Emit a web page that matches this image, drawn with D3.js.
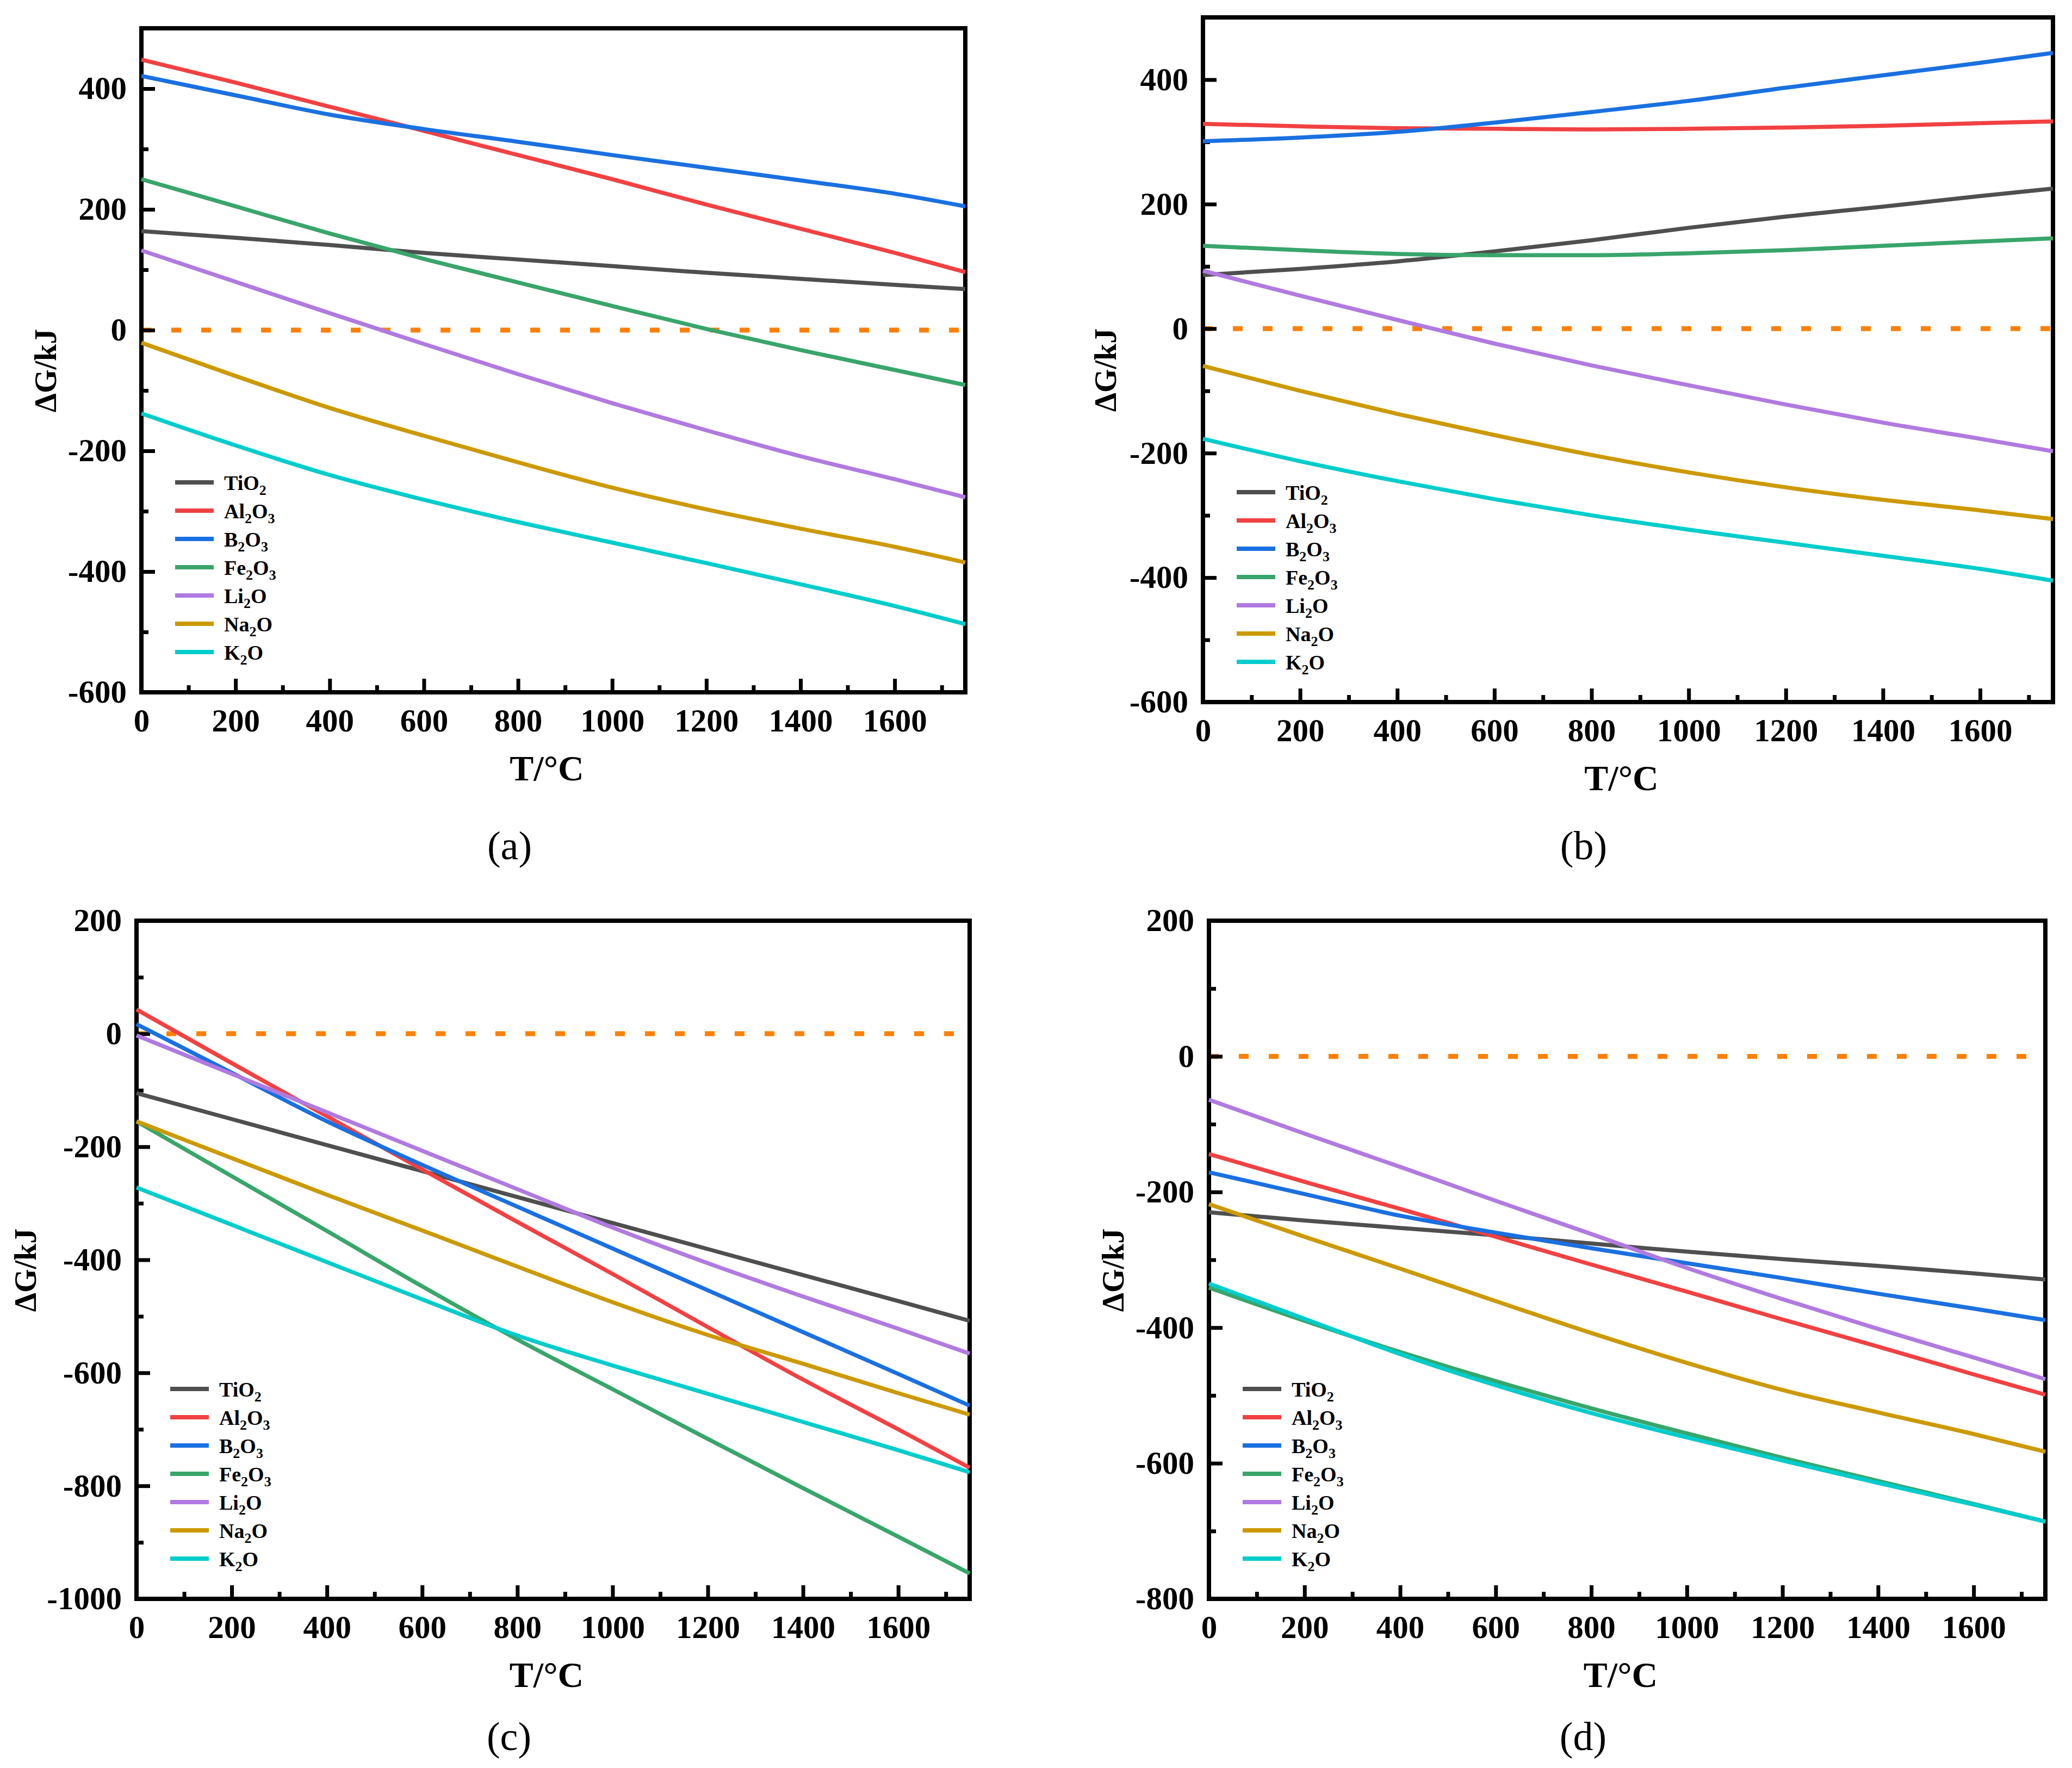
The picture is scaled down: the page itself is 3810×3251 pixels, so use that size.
<!DOCTYPE html>
<meta charset="utf-8">
<body style="margin:0;background:#fff">
<script src="https://d3js.org/d3.v7.min.js"></script>
<script>
// temperatures (°C) where the curves were read
var temps = [0, 200, 400, 600, 800, 1000, 1200, 1400, 1600, 1750];
var oxides = ["TiO2", "Al2O3", "B2O3", "Fe2O3", "Li2O", "Na2O", "K2O"];
var colors = ["#4f4f4f", "#f14142", "#1a70e0", "#39a56a", "#b07ae0", "#cc9900", "#00cccc"];
var panelNames = ["(a)", "(b)", "(c)", "(d)"];

// ΔG in kJ, one row per oxide (same order as oxides)
var dgA = [
  [164, 153, 141, 128, 117, 106, 95, 85, 75, 68],
  [448, 410, 370, 330, 290, 250, 208, 168, 128, 96],
  [421, 389, 357, 333, 312, 290, 269, 248, 226, 205],
  [250, 205, 160, 118, 79, 40, 2, -33, -66, -91],
  [132, 80, 28, -23, -73, -121, -166, -209, -247, -277],
  [-21, -76, -129, -175, -219, -261, -297, -329, -359, -385],
  [-138, -191, -240, -281, -318, -352, -386, -421, -457, -487]
];
var dgB = [
  [86, 96, 108, 124, 142, 162, 180, 196, 213, 225],
  [329, 325, 322, 321, 320, 321, 323, 326, 330, 333],
  [301, 307, 316, 331, 348, 366, 387, 407, 427, 443],
  [133, 126, 120, 118, 118, 121, 126, 133, 140, 145],
  [93, 53, 14, -24, -59, -91, -122, -151, -177, -197],
  [-60, -100, -137, -171, -203, -231, -255, -275, -292, -306],
  [-177, -213, -245, -274, -300, -323, -344, -365, -386, -405]
];
var dgC = [
  [-105, -151, -197, -243, -289, -335, -381, -427, -473, -508],
  [43, -52, -146, -240, -333, -425, -519, -612, -700, -768],
  [17, -69, -155, -232, -306, -380, -454, -528, -602, -658],
  [-155, -252, -349, -447, -541, -629, -717, -804, -890, -955],
  [-3, -71, -139, -207, -275, -343, -406, -465, -522, -566],
  [-155, -220, -285, -348, -412, -475, -533, -584, -636, -674],
  [-272, -338, -404, -470, -534, -587, -637, -687, -737, -776]
];
var dgD = [
  [-230, -242, -253, -264, -276, -288, -299, -309, -320, -329],
  [-144, -185, -225, -266, -307, -347, -388, -428, -469, -499],
  [-171, -203, -235, -260, -283, -305, -327, -350, -372, -389],
  [-341, -390, -436, -479, -519, -556, -592, -626, -660, -686],
  [-64, -114, -163, -213, -262, -312, -358, -402, -444, -476],
  [-218, -266, -313, -361, -408, -452, -492, -525, -557, -583],
  [-335, -387, -439, -485, -526, -562, -596, -629, -661, -686]
];

var xMajor = [0, 200, 400, 600, 800, 1000, 1200, 1400, 1600];
var xMinor = [100, 300, 500, 700, 900, 1100, 1300, 1500, 1700];
var yMajorAB = [-600, -400, -200, 0, 200, 400];
var yMinorAB = [-500, -300, -100, 100, 300];
var yMajorC = [-1000, -800, -600, -400, -200, 0, 200];
var yMinorC = [-900, -700, -500, -300, -100, 100];
var yMajorD = [-800, -600, -400, -200, 0, 200];
var yMinorD = [-700, -500, -300, -100, 100];
var zeroLine = [0, 1750];

var serif = "'Liberation Serif', 'Times New Roman', serif";

var panels = [
  {name: panelNames[0], data: dgA, yDom: [-600, 500], yMaj: yMajorAB, yMin: yMinorAB,
   l: 260, r: 1775, t: 52, b: 1273, titleOff: 157, labX: 937, labY: 1580},
  {name: panelNames[1], data: dgB, yDom: [-600, 500], yMaj: yMajorAB, yMin: yMinorAB,
   l: 2212, r: 3775, t: 32, b: 1291, titleOff: 160, labX: 2912, labY: 1580},
  {name: panelNames[2], data: dgC, yDom: [-1000, 200], yMaj: yMajorC, yMin: yMinorC,
   l: 251, r: 1783, t: 1693, b: 2940, titleOff: 185, labX: 936, labY: 3218},
  {name: panelNames[3], data: dgD, yDom: [-800, 200], yMaj: yMajorD, yMin: yMinorD,
   l: 2223, r: 3761, t: 1693, b: 2940, titleOff: 157, labX: 2911, labY: 3218}
];

var svg = d3.select("body").append("svg")
    .attr("width", 3810)
    .attr("height", 3251)
    .style("background", "#fff");

// write a formula like Al2O3 with subscript digits
function chemText(sel, label, size, subSize, drop) {
  var parts = label.split(/(\d+)/).filter(function(s) { return s.length; });
  var down = false;
  parts.forEach(function(p) {
    var isNum = /^\d+$/.test(p);
    var ts = sel.append("tspan").text(p);
    if (isNum) {
      ts.attr("font-size", subSize).attr("dy", down ? 0 : drop);
      down = true;
    } else {
      ts.attr("font-size", size).attr("dy", down ? -drop : 0);
      down = false;
    }
  });
}

panels.forEach(function(p) {
  var x = d3.scaleLinear().domain([0, 1750]).range([p.l, p.r]);
  var y = d3.scaleLinear().domain(p.yDom).range([p.b, p.t]);
  var g = svg.append("g");

  // dotted zero reference
  g.append("path")
    .attr("d", d3.line().x(function(d) { return x(d); }).y(y(0))(zeroLine))
    .attr("fill", "none")
    .attr("stroke", "#ff8000")
    .attr("stroke-width", 9)
    .attr("stroke-dasharray", "18,37");

  // minor ticks
  g.append("g")
    .attr("transform", "translate(0," + p.b + ")")
    .call(d3.axisBottom(x).tickValues(xMinor).tickSize(-13).tickSizeOuter(0).tickFormat(""));
  g.append("g")
    .attr("transform", "translate(" + p.l + ",0)")
    .call(d3.axisLeft(y).tickValues(p.yMin).tickSize(-13).tickSizeOuter(0).tickFormat(""));

  // major ticks with labels
  g.append("g")
    .attr("class", "ax")
    .attr("transform", "translate(0," + p.b + ")")
    .call(d3.axisBottom(x).tickValues(xMajor).tickSize(-25).tickSizeOuter(0).tickPadding(30)
      .tickFormat(function(d) { return String(d); }));
  g.append("g")
    .attr("class", "ax")
    .attr("transform", "translate(" + p.l + ",0)")
    .call(d3.axisLeft(y).tickValues(p.yMaj).tickSize(-25).tickSizeOuter(0).tickPadding(27)
      .tickFormat(function(d) { return String(d); }));

  g.selectAll(".domain").remove();
  g.selectAll(".tick line").attr("stroke", "#000").attr("stroke-width", 7);
  g.selectAll(".ax")
    .attr("font-family", serif)
    .attr("font-size", 59)
    .attr("font-weight", "bold");
  g.selectAll(".tick text").attr("fill", "#000");

  // frame
  g.append("rect")
    .attr("x", p.l).attr("y", p.t)
    .attr("width", p.r - p.l).attr("height", p.b - p.t)
    .attr("fill", "none")
    .attr("stroke", "#000")
    .attr("stroke-width", 8);

  // curves
  var line = d3.line()
    .x(function(d, i) { return x(temps[i]); })
    .y(function(d) { return y(d); })
    .curve(d3.curveMonotoneX);
  p.data.forEach(function(row, k) {
    g.append("path")
      .attr("d", line(row))
      .attr("fill", "none")
      .attr("stroke", colors[k])
      .attr("stroke-width", 7.5);
  });

  // legend
  oxides.forEach(function(name, k) {
    var ly = p.b - 74 - (oxides.length - 1 - k) * 52;
    g.append("line")
      .attr("x1", p.l + 62).attr("x2", p.l + 133)
      .attr("y1", ly).attr("y2", ly)
      .attr("stroke", colors[k])
      .attr("stroke-width", 8);
    var t = g.append("text")
      .attr("x", p.l + 152)
      .attr("y", ly + 14)
      .attr("font-family", serif)
      .attr("font-weight", "bold")
      .attr("font-size", 38);
    chemText(t, name, 38, 26, 9);
  });

  // axis titles
  g.append("text")
    .attr("x", (p.l + p.r) / 2 - 12)
    .attr("y", p.b + 162)
    .attr("text-anchor", "middle")
    .attr("font-family", serif)
    .attr("font-weight", "bold")
    .attr("font-size", 66)
    .text("T/°C");
  var cy = (p.t + p.b) / 2 + 19;
  g.append("text")
    .attr("transform", "translate(" + (p.l - p.titleOff) + "," + cy + ") rotate(-90)")
    .attr("text-anchor", "middle")
    .attr("font-family", serif)
    .attr("font-weight", "bold")
    .attr("font-size", 56)
    .text("ΔG/kJ");

  // panel caption
  g.append("text")
    .attr("x", p.labX)
    .attr("y", p.labY)
    .attr("text-anchor", "middle")
    .attr("font-family", serif)
    .attr("font-size", 74)
    .text(p.name);
});
</script>
</body>
